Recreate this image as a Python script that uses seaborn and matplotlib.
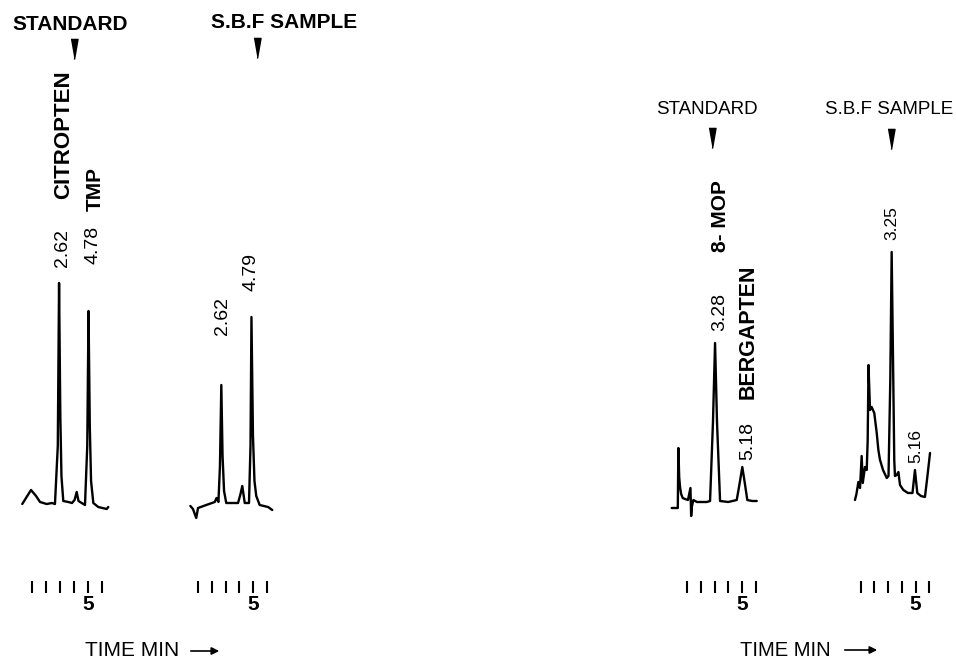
import matplotlib
matplotlib.use("Agg")
import matplotlib.pyplot as plt
from matplotlib.lines import Line2D
from matplotlib.patches import FancyArrowPatch
import pandas as pd
import seaborn as sns

# Chromatogram traces.
# time = minutes on the chart-paper scale, signal = detector response above baseline (arb. units)
std1_time = [0.33, 0.95, 1.31, 1.59, 2.06, 2.44, 2.65, 2.85, 2.94, 3.03, 3.11, 3.24, 3.60, 3.86,
             4.04, 4.19, 4.32, 4.43, 4.78, 4.94, 5.03, 5.12, 5.21, 5.37, 5.72, 6.32, 6.43]
std1_signal = [2, 16, 10, 4, 2, 3, 2, 60, 223, 90, 30, 5, 4, 3,
               6, 14, 5, 4, 1, 60, 195, 80, 25, 3, -1, -3, -1]

smp1_time = [0.42, 0.61, 0.85, 0.98, 1.58, 2.20, 2.33, 2.47, 2.58, 2.68, 2.77, 2.88, 3.04, 3.53,
             3.90, 4.08, 4.21, 4.39, 4.70, 4.81, 4.88, 4.99, 5.10, 5.23, 5.48, 6.09, 6.40]
smp1_signal = [0, -3, -12, -2, 1, 4, 8, 4, 40, 121, 50, 15, 3, 3,
               3, 12, 20, 3, 3, 60, 189, 70, 25, 10, 1, -1, -4]

std2_time = [-0.08, 0.36, 0.40, 0.46, 0.52, 0.60, 0.71, 0.88, 1.09, 1.27, 1.32, 1.38, 1.48, 1.74,
             2.44, 2.68, 2.89, 3.04, 3.18, 3.40, 3.99, 4.60, 4.80, 5.00, 5.19, 5.36, 5.70, 6.04]
std2_signal = [-6, -6, 54, 25, 15, 8, 4, 3, 2, 14, -14, -4, 2, 0,
               0, 1, 80, 159, 80, 1, 0, 2, 18, 35, 18, 2, 1, 1]

smp2_time = [0.58, 0.69, 0.83, 0.95, 1.07, 1.15, 1.31, 1.44, 1.51, 1.57, 1.68, 1.80, 1.99, 2.17,
             2.29, 2.41, 2.63, 2.90, 3.03, 3.16, 3.26, 3.36, 3.45, 3.50, 3.63, 3.75, 3.87, 4.11,
             4.45, 4.78, 4.96, 5.13, 5.40, 5.69, 5.88, 6.06]
smp2_signal = [0, 6, 18, 12, 44, 17, 33, 30, 60, 135, 90, 93, 87, 67,
               50, 40, 30, 22, 24, 120, 248, 140, 40, 24, 25, 28, 15, 10,
               7, 7, 30, 7, 4, 3, 25, 47]

tick_minutes = [1, 2, 3, 4, 5, 6]
tick_labels = ["", "", "", "", "5", ""]

sns.set_theme(style="white")
plt.rcParams["font.family"] = ["Liberation Sans", "DejaVu Sans"]
plt.rcParams["text.color"] = "black"
plt.rcParams["xtick.color"] = "black"

W, H = 956, 662
fig = plt.figure(figsize=(W / 100, H / 100), dpi=100)
fig.patch.set_facecolor("white")


def px(x, y):
    return x / W, 1 - y / H


def panel(time, signal, left, right, tick1, step, base, top=240, bottom=587):
    # axes laid out so that one signal unit = one pixel and ticks land on the chart-paper marks
    ax = fig.add_axes([left / W, 1 - bottom / H, (right - left) / W, (bottom - top) / H])
    df = pd.DataFrame({"time": time, "signal": signal})
    sns.lineplot(data=df, x="time", y="signal", ax=ax, color="black", lw=1.7,
                 sort=False, estimator=None)
    ax.set_xlim(1 + (left - tick1) / step, 1 + (right - tick1) / step)
    ax.set_ylim(base - bottom, base - top)
    ax.set_xticks(tick_minutes, tick_labels)
    ax.set_yticks([])
    ax.set_xlabel("")
    ax.set_ylabel("")
    sns.despine(ax=ax, left=True, bottom=True)
    ax.tick_params(axis="x", bottom=True, direction="inout", length=8, width=1.5,
                   color="black", labelcolor="black", pad=2, labelsize=15)
    for lbl in ax.get_xticklabels():
        lbl.set_fontweight("bold")
    ax.patch.set_alpha(0)
    return ax


panel(std1_time, std1_signal, 15, 115, 31.7, 14.1, 506)
panel(smp1_time, smp1_signal, 183, 280, 198.3, 13.7, 506)
panel(std2_time, std2_signal, 665, 762, 686.7, 13.9, 502)
panel(smp2_time, smp2_signal, 848, 938, 860.7, 13.7, 500)

# headings
fig.text(*px(70, 24), "STANDARD", ha="center", va="center", fontsize=15, fontweight="bold")
fig.text(*px(284, 23), "S.B.F SAMPLE", ha="center", va="center", fontsize=15, fontweight="bold")
fig.text(*px(707, 109), "STANDARD", ha="center", va="center", fontsize=13.5)
fig.text(*px(889, 110), "S.B.F SAMPLE", ha="center", va="center", fontsize=13.5)

# injection arrows
wedge = [(-0.35, 1), (0.35, 1), (0, -1)]
for x, y in [(74, 49), (257, 48), (712, 138), (890.5, 139)]:
    fig.add_artist(Line2D([x / W], [1 - y / H], transform=fig.transFigure, marker=wedge,
                          markersize=14.5, color="black", linestyle="none"))

# peak labels
peak_labels = [
    ("CITROPTEN", 63.5, 135, 16, "bold"),
    ("2.62", 62, 248, 14, "normal"),
    ("TMP", 95, 189, 15, "bold"),
    ("4.78", 93, 245, 14, "normal"),
    ("2.62", 222, 316, 14, "normal"),
    ("4.79", 251, 272, 14, "normal"),
    ("8- MOP", 720, 216, 15, "bold"),
    ("3.28", 720, 312, 14, "normal"),
    ("BERGAPTEN", 748, 332, 15.5, "bold"),
    ("5.18", 748, 441, 14, "normal"),
    ("3.25", 892, 223, 12.5, "normal"),
    ("5.16", 916, 446, 12.5, "normal"),
]
for text, x, y, size, weight in peak_labels:
    fig.text(*px(x, y), text, rotation=90, ha="center", va="center",
             fontsize=size, fontweight=weight)

# time axis captions
fig.text(*px(132, 651), "TIME MIN", ha="center", va="center", fontsize=15)
fig.text(*px(785, 650), "TIME MIN", ha="center", va="center", fontsize=14.5)
for x0, x1, y in [(188, 222, 651), (842, 880, 650)]:
    fig.add_artist(FancyArrowPatch(px(x0, y), px(x1, y), transform=fig.transFigure,
                                   arrowstyle="-|>", mutation_scale=11, lw=1.2, color="black"))

fig.savefig("out.png", dpi=100, facecolor="white")
